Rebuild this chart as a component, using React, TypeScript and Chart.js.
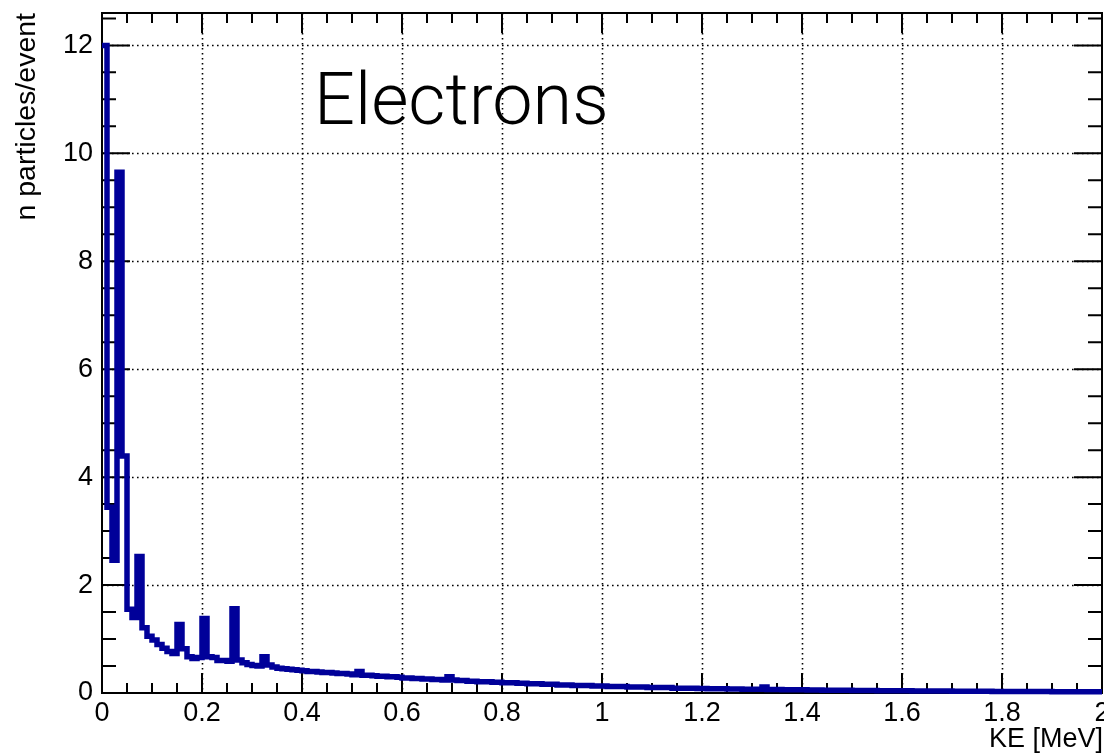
import React, { useEffect, useRef } from "react";
import { Chart, registerables } from "chart.js";

Chart.register(...registerables);

// ---- text ----
const PLOT_LABEL = "Electrons";
const X_TITLE = "KE [MeV]";
const Y_TITLE = "n particles/event";

// ---- axes ----
const X_MIN = 0;
const X_MAX = 2;
const Y_MIN = 0;
const Y_MAX = 12.6;
const BIN_WIDTH = 0.01;
const X_MAJOR = [0, 0.2, 0.4, 0.6, 0.8, 1, 1.2, 1.4, 1.6, 1.8, 2];
const X_TICK_LABELS = ["0", "0.2", "0.4", "0.6", "0.8", "1", "1.2", "1.4", "1.6", "1.8", "2"];
const Y_MAJOR = [0, 2, 4, 6, 8, 10, 12];
const Y_TICK_LABELS = ["0", "2", "4", "6", "8", "10", "12"];
const X_MINOR_STEP = 0.05;
const Y_MINOR_STEP = 0.5;

// ---- histogram contents (bin width 0.01 MeV) ----
// 0.00 - 0.40
const COUNTS_LOW = [
  12.0, 3.44, 2.46, 9.65, 4.39, 1.55, 1.4, 2.53, 1.21, 1.05,
  0.98, 0.9, 0.83, 0.77, 0.73, 1.27, 0.82, 0.67, 0.64, 0.66,
  1.38, 0.67, 0.66, 0.6, 0.6, 0.59, 1.56, 0.61, 0.56, 0.53,
  0.51, 0.5, 0.67, 0.52, 0.48, 0.46, 0.45, 0.44, 0.43, 0.42,
];
// 0.40 - 1.00
const COUNTS_MID = [
  0.41, 0.4, 0.4, 0.39, 0.38, 0.38, 0.37, 0.36, 0.36, 0.35,
  0.34, 0.4, 0.33, 0.33, 0.32, 0.31, 0.31, 0.3, 0.3, 0.29,
  0.28, 0.28, 0.27, 0.27, 0.26, 0.26, 0.25, 0.25, 0.24, 0.3,
  0.24, 0.23, 0.23, 0.22, 0.22, 0.21, 0.21, 0.21, 0.2, 0.2,
  0.19, 0.19, 0.19, 0.18, 0.18, 0.17, 0.17, 0.17, 0.16, 0.16,
  0.16, 0.15, 0.15, 0.15, 0.14, 0.14, 0.14, 0.14, 0.13, 0.13,
];
// 1.00 - 2.00
const COUNTS_HIGH = [
  0.13, 0.12, 0.12, 0.12, 0.12, 0.11, 0.11, 0.11, 0.11, 0.1,
  0.1, 0.1, 0.1, 0.1, 0.09, 0.09, 0.09, 0.09, 0.09, 0.085,
  0.085, 0.08, 0.08, 0.08, 0.08, 0.075, 0.075, 0.075, 0.07, 0.07,
  0.07, 0.07, 0.11, 0.065, 0.065, 0.065, 0.06, 0.06, 0.06, 0.06,
  0.058, 0.057, 0.055, 0.055, 0.053, 0.052, 0.052, 0.05, 0.05, 0.049,
  0.048, 0.047, 0.046, 0.046, 0.045, 0.044, 0.043, 0.043, 0.042, 0.041,
  0.04, 0.04, 0.039, 0.038, 0.038, 0.037, 0.036, 0.036, 0.035, 0.035,
  0.034, 0.034, 0.033, 0.033, 0.032, 0.032, 0.031, 0.031, 0.03, 0.03,
  0.029, 0.029, 0.028, 0.028, 0.028, 0.027, 0.027, 0.026, 0.026, 0.026,
  0.025, 0.025, 0.024, 0.024, 0.024, 0.023, 0.023, 0.023, 0.022, 0.022,
];

const FONT = "'Liberation Sans', Arial, Helvetica, sans-serif";
const LINE_COLOR = "#000099";

const rootFramePlugin = {
  id: "rootFrame",
  beforeDatasetsDraw(chart: any) {
    const { ctx, chartArea } = chart;
    const { left, right, top, bottom } = chartArea;
    const xs = chart.scales.x;
    const ys = chart.scales.y;
    ctx.save();
    // dotted grid
    ctx.strokeStyle = "#000";
    ctx.lineWidth = 1.6;
    ctx.setLineDash([1.6, 3.4]);
    for (const v of X_MAJOR) {
      if (v <= X_MIN || v >= X_MAX) continue;
      const px = Math.round(xs.getPixelForValue(v)) + 0.5;
      ctx.beginPath();
      ctx.moveTo(px, top);
      ctx.lineTo(px, bottom);
      ctx.stroke();
    }
    for (const v of Y_MAJOR) {
      if (v <= Y_MIN || v >= Y_MAX) continue;
      const py = Math.round(ys.getPixelForValue(v)) + 0.5;
      ctx.beginPath();
      ctx.moveTo(left, py);
      ctx.lineTo(right, py);
      ctx.stroke();
    }
    ctx.setLineDash([]);
    // ticks on all four sides
    ctx.lineWidth = 2;
    const nx = Math.round((X_MAX - X_MIN) / X_MINOR_STEP);
    for (let i = 0; i <= nx; i++) {
      const v = X_MIN + i * X_MINOR_STEP;
      const major = i % 4 === 0;
      const len = major ? 20 : 10;
      const px = xs.getPixelForValue(v);
      ctx.beginPath();
      ctx.moveTo(px, bottom);
      ctx.lineTo(px, bottom - len);
      ctx.moveTo(px, top);
      ctx.lineTo(px, top + len);
      ctx.stroke();
    }
    const ny = Math.floor((Y_MAX - Y_MIN) / Y_MINOR_STEP);
    for (let i = 0; i <= ny; i++) {
      const v = Y_MIN + i * Y_MINOR_STEP;
      const major = i % 4 === 0;
      const len = major ? 28 : 14;
      const py = ys.getPixelForValue(v);
      ctx.beginPath();
      ctx.moveTo(left, py);
      ctx.lineTo(left + len, py);
      ctx.moveTo(right, py);
      ctx.lineTo(right - len, py);
      ctx.stroke();
    }
    // frame
    ctx.lineWidth = 2;
    ctx.strokeRect(left, top, right - left, bottom - top);
    ctx.restore();
  },
  afterDraw(chart: any) {
    const { ctx, chartArea } = chart;
    ctx.save();
    ctx.fillStyle = "#000";
    // y title
    ctx.font = `28.5px ${FONT}`;
    ctx.translate(27, chartArea.top);
    ctx.rotate(-Math.PI / 2);
    ctx.textAlign = "right";
    ctx.textBaseline = "middle";
    ctx.fillText(Y_TITLE, 0, 0);
    ctx.restore();

    ctx.save();
    ctx.fillStyle = "#000";
    ctx.font = `27px ${FONT}`;
    ctx.textAlign = "right";
    ctx.textBaseline = "middle";
    ctx.fillText(X_TITLE, chart.width - 1, 740);

    ctx.font = `300 72px Roboto, ${FONT}`;
    ctx.textAlign = "left";
    ctx.textBaseline = "alphabetic";
    ctx.fillText(PLOT_LABEL, 314, 124);
    ctx.restore();
  },
};

export default function App() {
  const canvasRef = useRef<HTMLCanvasElement | null>(null);

  useEffect(() => {
    if (!canvasRef.current) return;
    const counts = [...COUNTS_LOW, ...COUNTS_MID, ...COUNTS_HIGH];
    const points: { x: number; y: number }[] = [];
    counts.forEach((c, i) => points.push({ x: X_MIN + i * BIN_WIDTH, y: c }));
    points.push({ x: X_MAX, y: counts[counts.length - 1] });

    const chart = new Chart(canvasRef.current, {
      type: "line",
      data: {
        datasets: [
          {
            data: points,
            stepped: true,
            borderColor: LINE_COLOR,
            borderWidth: 5.5,
            pointRadius: 0,
            fill: false,
            borderJoinStyle: "miter",
            borderCapStyle: "butt",
            clip: { left: 0, top: 0, right: 0, bottom: 3 },
          } as any,
        ],
      },
      options: {
        animation: false,
        responsive: true,
        maintainAspectRatio: false,
        layout: { padding: { top: 13, right: 2, left: 0, bottom: 0 } },
        plugins: {
          legend: { display: false },
          tooltip: { enabled: false },
        },
        scales: {
          x: {
            type: "linear",
            min: X_MIN,
            max: X_MAX,
            grid: { display: false, drawTicks: false },
            border: { display: false },
            afterBuildTicks: (s: any) => {
              s.ticks = X_MAJOR.map((v) => ({ value: v }));
            },
            afterFit: (s: any) => {
              s.height = 61;
              s.paddingLeft = 0;
              s.paddingRight = 0;
            },
            ticks: {
              autoSkip: false,
              maxRotation: 0,
              minRotation: 0,
              padding: 4,
              color: "#000",
              font: { family: FONT, size: 27 },
              callback: (_v: any, i: number) => X_TICK_LABELS[i],
            },
          },
          y: {
            type: "linear",
            min: Y_MIN,
            max: Y_MAX,
            grid: { display: false, drawTicks: false },
            border: { display: false },
            afterBuildTicks: (s: any) => {
              s.ticks = Y_MAJOR.map((v) => ({ value: v }));
            },
            afterFit: (s: any) => {
              s.width = 102;
              s.paddingTop = 0;
              s.paddingBottom = 0;
            },
            ticks: {
              autoSkip: false,
              padding: 9,
              color: "#000",
              font: { family: FONT, size: 27 },
              callback: (_v: any, i: number) => Y_TICK_LABELS[i],
            },
          },
        },
      },
      plugins: [rootFramePlugin],
    });
    return () => chart.destroy();
  }, []);

  return (
    <div style={{ position: "fixed", left: 0, top: 0, width: 1104, height: 754, background: "#fff" }}>
      <canvas ref={canvasRef} />
    </div>
  );
}
